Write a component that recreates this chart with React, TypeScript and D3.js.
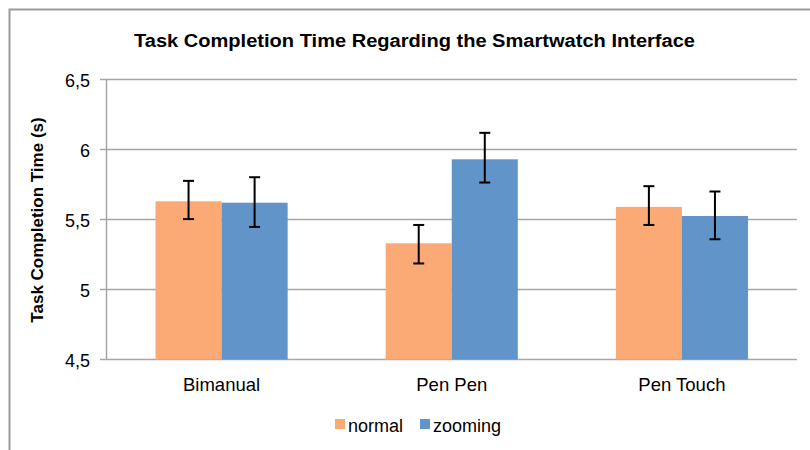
import React from "react";
import * as d3 from "d3";

const categories = ["Bimanual", "Pen Pen", "Pen Touch"];
const seriesNames = ["normal", "zooming"];
const normalValues = [5.63, 5.33, 5.59];
const zoomingValues = [5.62, 5.93, 5.525];
const normalErrLow = [5.503, 5.186, 5.461];
const normalErrHigh = [5.776, 5.461, 5.738];
const zoomingErrLow = [5.447, 5.764, 5.359];
const zoomingErrHigh = [5.802, 6.119, 5.700];
const yTicks = [4.5, 5, 5.5, 6, 6.5];
const colors = ["#FBA975", "#6195C9"];

const W = 810;
const H = 450;
const FONT = "'Liberation Sans', Arial, sans-serif";

export default function App() {
  const y = d3.scaleLinear().domain([4.5, 6.5]).range([359.5, 79.5]);
  const x0 = d3.scaleBand<string>().domain(categories).range([106.5, 797]).padding(0);
  const x1 = d3
    .scaleBand<string>()
    .domain(seriesNames)
    .range([0, x0.bandwidth()])
    .paddingInner(0)
    .paddingOuter(0.742);

  const values = [normalValues, zoomingValues];
  const lows = [normalErrLow, zoomingErrLow];
  const highs = [normalErrHigh, zoomingErrHigh];
  const fmt = (v: number) => String(v).replace(".", ",");

  return (
    <svg width={W} height={H} style={{ position: "absolute", left: 0, top: 0, background: "#fff" }}>
      <rect x={0} y={0} width={W} height={H} fill="#fff" />
      <rect x={9.5} y={9.5} width={900} height={600} fill="none" stroke="#9a9a9a" strokeWidth={2} />
      <text
        x={134}
        y={47}
        textLength={561}
        lengthAdjust="spacingAndGlyphs"
        fontFamily={FONT}
        fontWeight="bold"
        fontSize={18}
        fill="#000"
      >
        Task Completion Time Regarding the Smartwatch Interface
      </text>
      {yTicks.map((t) => (
        <g key={t}>
          <line x1={100} x2={797} y1={y(t)} y2={y(t)} stroke="#a6a6a6" strokeWidth={1.5} />
          <text x={90} y={y(t) + 7} textAnchor="end" fontFamily={FONT} fontSize={18} fill="#000">
            {fmt(t)}
          </text>
        </g>
      ))}
      <line x1={106.5} x2={106.5} y1={y(6.5)} y2={y(4.5)} stroke="#a6a6a6" strokeWidth={1.5} />
      {categories.map((c, i) => (
        <g key={c}>
          {seriesNames.map((s, j) => {
            const bx = (x0(c) ?? 0) + (x1(s) ?? 0);
            const bw = x1.bandwidth();
            const cx = bx + bw / 2;
            return (
              <g key={s}>
                <rect x={bx} y={y(values[j][i])} width={bw} height={y(4.5) - y(values[j][i])} fill={colors[j]} />
                <line x1={cx} x2={cx} y1={y(highs[j][i])} y2={y(lows[j][i])} stroke="#000" strokeWidth={2} />
                <line x1={cx - 5.5} x2={cx + 5.5} y1={y(highs[j][i])} y2={y(highs[j][i])} stroke="#000" strokeWidth={2} />
                <line x1={cx - 5.5} x2={cx + 5.5} y1={y(lows[j][i])} y2={y(lows[j][i])} stroke="#000" strokeWidth={2} />
              </g>
            );
          })}
          <text
            x={(x0(c) ?? 0) + x0.bandwidth() / 2}
            y={390.5}
            textAnchor="middle"
            fontFamily={FONT}
            fontSize={18.5}
            fill="#000"
          >
            {c}
          </text>
        </g>
      ))}
      <text
        transform={`translate(43, 220) rotate(-90)`}
        textAnchor="middle"
        fontFamily={FONT}
        fontWeight="bold"
        fontSize={17}
        fill="#000"
      >
        Task Completion Time (s)
      </text>
      {seriesNames.map((s, j) => {
        const lx = [335, 420][j];
        return (
          <g key={s}>
            <rect x={lx} y={419} width={10} height={10} fill={colors[j]} />
            <text x={lx + 13} y={431.5} fontFamily={FONT} fontSize={18} fill="#000">
              {s}
            </text>
          </g>
        );
      })}
    </svg>
  );
}
